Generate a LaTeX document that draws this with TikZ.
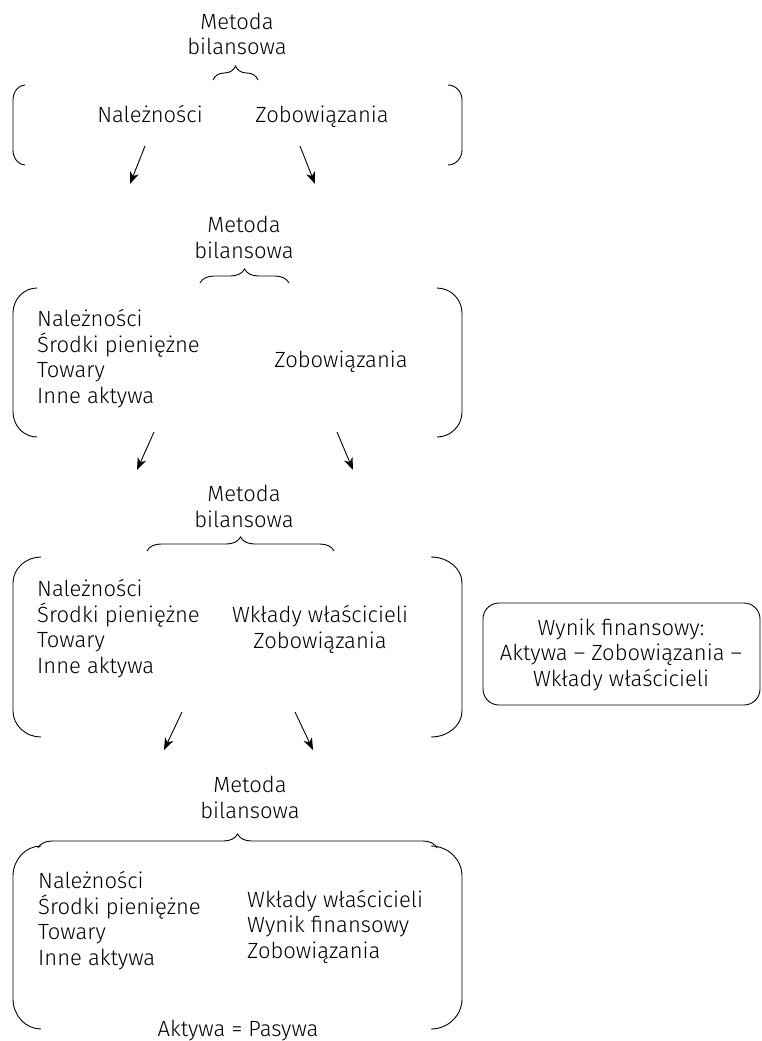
\documentclass[tikz,border=0pt]{standalone}
\usepackage{fontspec}
\setmainfont{Fira Sans}[UprightFont=* Light]
\usetikzlibrary{decorations.pathreplacing,arrows.meta}
\tikzset{
  txt/.style={inner sep=0pt, font=\fontsize{22}{25.5}\selectfont},
  lst/.style={txt, align=left, anchor=base west},
  ctr/.style={txt, align=center, anchor=base},
  brc/.style={decorate, decoration={brace, amplitude=14pt}, line width=0.9pt},
  brk/.style={line width=0.9pt},
  arr/.style={line width=0.9pt, -{Stealth[length=12pt,width=9pt,inset=3.5pt]}},
  wbox/.style={draw, line width=0.9pt, rounded corners=16pt, minimum width=277pt, minimum height=102pt, inner sep=0pt}
}
\newcommand{\lbrk}[4]{% top, bottom, endx, radius
  \draw[brk] (#3,#1) .. controls ({13+0.45*(#3-13)},#1) and (13,{#1+0.45*#4}) .. (13,{#1+#4})
    -- (13,{#2-#4}) .. controls (13,{#2-0.45*#4}) and ({13+0.45*(#3-13)},#2) .. (#3,#2);}
\newcommand{\rbrk}[4]{%
  \draw[brk] (#3,#1) .. controls ({462-0.45*(462-#3)},#1) and (462,{#1+0.45*#4}) .. (462,{#1+#4})
    -- (462,{#2-#4}) .. controls (462,{#2-0.45*#4}) and ({462-0.45*(462-#3)},#2) .. (#3,#2);}
\begin{document}
\begin{tikzpicture}[x=1pt,y=-1pt]
\useasboundingbox (0,0) rectangle (762,1041);
% ---------- block 1
\node[ctr] (m1) at (237,55) {Metoda\\bilansowa};
\draw[brc] (213,80) -- (258,80);
\lbrk{85}{165}{25}{15}
\rbrk{85}{165}{448}{15}
\node[ctr] (n1) at (150,122) {Należności};
\node[ctr] (z1) at (322,122) {Zobowiązania};
\coordinate (a1s) at (145,146); \coordinate (a1e) at (130,184);
\coordinate (b1s) at (300,146); \coordinate (b1e) at (315,184);
\draw[arr] (a1s) -- (a1e);
\draw[arr] (b1s) -- (b1e);
% ---------- block 2
\node[ctr] (m2) at (244,258) {Metoda\\bilansowa};
\draw[brc] (200,283) -- (289,283);
\lbrk{288}{437}{37}{25}
\rbrk{288}{437}{437}{25}
\node[lst] (l2) at (37,403) {Należności\\Środki pieniężne\\Towary\\Inne aktywa};
\node[ctr] (z2) at (341,367) {Zobowiązania};
\coordinate (a2s) at (154,432); \coordinate (a2e) at (137,470);
\coordinate (b2s) at (337,432); \coordinate (b2e) at (353,470);
\draw[arr] (a2s) -- (a2e);
\draw[arr] (b2s) -- (b2e);
% ---------- block 3
\node[ctr] (m3) at (244,527) {Metoda\\bilansowa};
\draw[brc] (147,551) -- (334,551);
\lbrk{557}{737}{41}{26}
\rbrk{557}{737}{431}{26}
\node[lst] (l3) at (37,673) {Należności\\Środki pieniężne\\Towary\\Inne aktywa};
\node[ctr] (r3) at (320,648) {Wkłady właścicieli\\Zobowiązania};
\node[wbox] (w) at (621.5,654) {};
\node[ctr] (wt) at (621,686) {Wynik finansowy:\\Aktywa – Zobowiązania –\\Wkłady właścicieli};
\coordinate (a3s) at (182,712); \coordinate (a3e) at (164,750);
\coordinate (b3s) at (295,712); \coordinate (b3e) at (313,750);
\draw[arr] (a3s) -- (a3e);
\draw[arr] (b3s) -- (b3e);
% ---------- block 4
\node[ctr] (m4) at (250,818) {Metoda\\bilansowa};
\draw[brc] (38,848) -- (437,848);
\lbrk{846}{1029}{41}{30}
\rbrk{846}{1029}{431}{30}
\node[lst] (l4) at (38,965) {Należności\\Środki pieniężne\\Towary\\Inne aktywa};
\node[lst] (r4) at (247,958) {Wkłady właścicieli\\Wynik finansowy\\Zobowiązania};
\node[ctr] (ap) at (238,1036) {Aktywa = Pasywa};
\end{tikzpicture}
\end{document}
